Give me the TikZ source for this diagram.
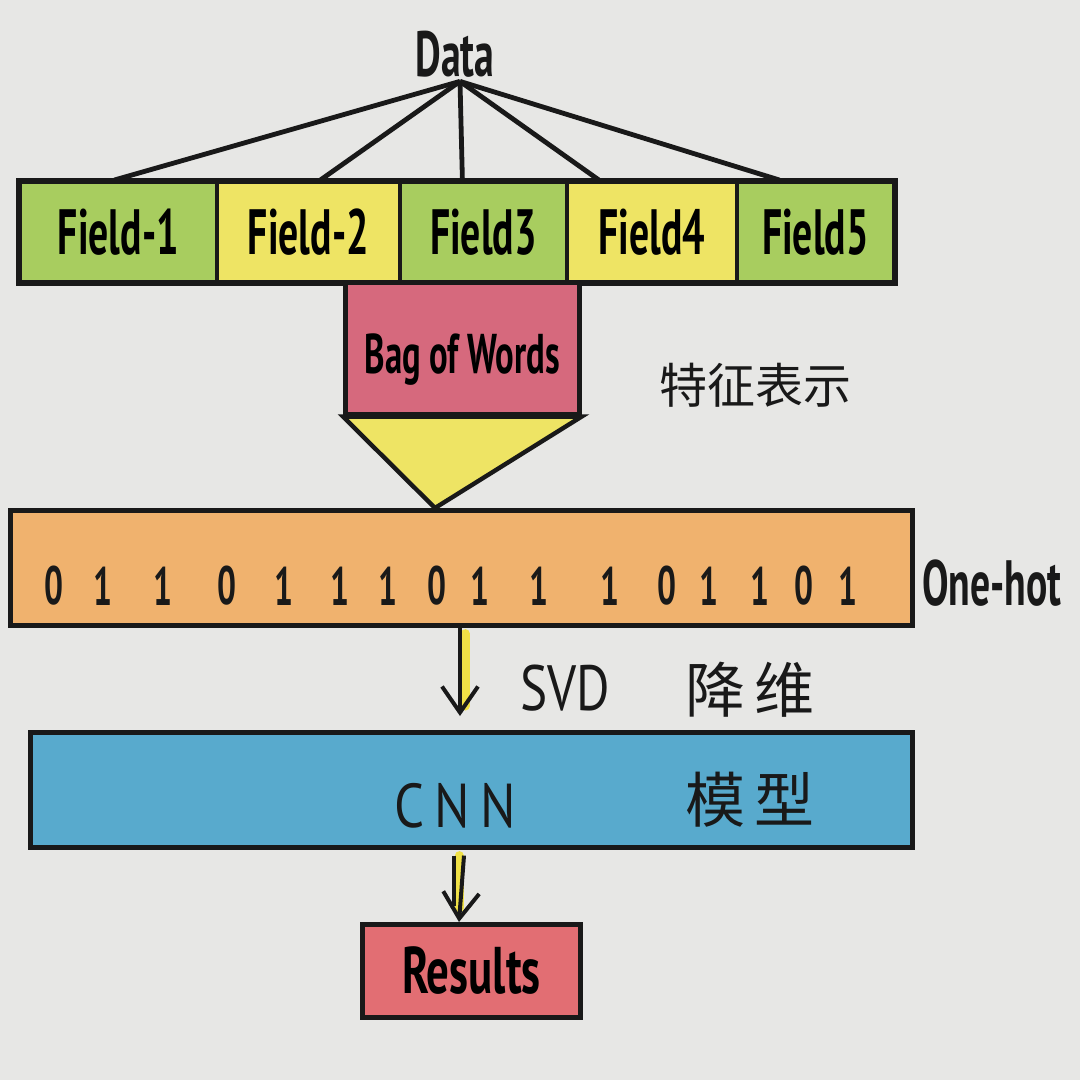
\documentclass[tikz,border=0pt]{standalone}
\usepackage{fontspec}
\setmainfont{PT Sans}
\newfontfamily\hand[FakeStretch=0.62]{PT Sans}
\newfontfamily\cjk{Noto Sans CJK SC}
\usetikzlibrary{calc,arrows.meta}
\definecolor{paper}{RGB}{231,231,229}
\definecolor{fgreen}{RGB}{168,205,95}
\definecolor{fyellow}{RGB}{238,228,100}
\definecolor{bowred}{RGB}{214,105,125}
\definecolor{hotorange}{RGB}{240,178,110}
\definecolor{cnnblue}{RGB}{88,170,205}
\definecolor{resred}{RGB}{226,110,115}
\definecolor{ink}{RGB}{25,25,25}
\definecolor{hilite}{RGB}{240,225,70}
\begin{document}
\begin{tikzpicture}[x=1pt,y=-1pt,
  box/.style={draw=ink,line width=4.6pt,inner sep=0pt,anchor=north west},
  field/.style={box,line width=3.8pt,minimum height=100pt,font=\hand\bfseries\fontsize{64}{64}\selectfont},
  handtxt/.style={inner sep=0pt,font=\hand\bfseries\fontsize{64}{64}\selectfont,text=ink},
  thintxt/.style={inner sep=0pt,font=\hand\fontsize{62}{62}\selectfont,text=ink},
  zhtxt/.style={inner sep=0pt,font=\cjk\fontsize{48}{48}\selectfont,text=ink},
  digit/.style={inner sep=0pt,font=\hand\bfseries\fontsize{54}{54}\selectfont,text=ink},
  conn/.style={draw=ink,line width=4.8pt},
  hl/.style={draw=hilite,line width=9pt,line cap=round},
  arr/.style={draw=ink,line width=4pt,-{Straight Barb[length=26pt,width=36pt,line width=4pt]}}
]
\useasboundingbox (0,0) rectangle (1080,1080);
\fill[paper] (0,0) rectangle (1080,1080);

% Data and fields
\node[handtxt] (data) at (455,54) {Data};
\node[field,fill=fgreen,minimum width=197pt] (f1) at (18,180) {Field-1};
\node[field,fill=fyellow,minimum width=183pt] (f2) at (215,180) {Field-2};
\node[field,fill=fgreen,minimum width=167pt] (f3) at (398,180) {Field3};
\node[field,fill=fyellow,minimum width=170pt] (f4) at (565,180) {Field4};
\node[field,fill=fgreen,minimum width=157pt] (f5) at (735,180) {Field5};
\draw[ink,line width=5pt] (f1.north west) rectangle (f5.south east);

\coordinate (dv) at ($(data.south)+(5,4)$);
\draw[conn] (dv) -- ($(f1.north)+(-4,0)$);
\draw[conn] (dv) -- ($(f2.north)+(12,0)$);
\draw[conn] (dv) -- ($(f3.north)+(-21,0)$);
\draw[conn] (dv) -- ($(f4.north)+(-53,0)$);
\draw[conn] (dv) -- ($(f5.north)+(-36,0)$);

% Bag of words
\node[box,fill=bowred,minimum width=234pt,minimum height=132pt,
      font=\hand\bfseries\fontsize{56}{56}\selectfont,text height=60pt,text depth=10pt] (bow) at (343,280) {Bag of Words};
\node[zhtxt] (feat) at (755,385) {特征表示};

% One-hot
\node[box,fill=hotorange,minimum width=902pt,minimum height=115pt] (onehot) at (8,508) {};
\coordinate (apex) at (435,508);
\draw[ink,line width=4.4pt,fill=fyellow,line join=miter] (bow.south west) -- (bow.south east) -- (apex) -- cycle;
\foreach \x/\d [count=\i] in {54/0,103/1,163/1,227/0,284/1,340/1,388/1,437/0,480/1,539/1,610/1,667/0,709/1,760/1,804/0,848/1}
  \node[digit] (d\i) at (\x,586) {\d};
\node[handtxt,anchor=west] (ohlabel) at (922,583) {One-hot};

% CNN
\node[box,fill=cnnblue,minimum width=882pt,minimum height=115pt] (cnn) at (28,730) {};
\node[thintxt,font=\fontsize{62}{62}\selectfont\addfontfeature{FakeStretch=0.85}] (cnnlabel) at (455,806) {C\,N\,N};
\node[zhtxt,font=\cjk\fontsize{60}{60}\selectfont] (model) at (750,800) {模\hspace{10pt}型};

% SVD arrow
\coordinate (a1x) at (460,0);
\draw[hl] ($(onehot.south -| a1x)+(5,6)$) -- ($(cnn.north -| a1x)+(5,-24)$);
\draw[arr] (onehot.south -| a1x) -- ($(cnn.north -| a1x)+(0,-14)$);
\node[thintxt,font=\fontsize{64}{64}\selectfont\addfontfeature{FakeStretch=0.8},anchor=west] (svd) at (520,688) {SVD};
\node[zhtxt,font=\cjk\fontsize{60}{60}\selectfont] (svdzh) at (750,690) {降\hspace{10pt}维};

% Results
\node[box,fill=resred,minimum width=218pt,minimum height=93pt,
      font=\hand\bfseries\fontsize{66}{66}\selectfont\addfontfeature{FakeStretch=0.68}] (res) at (360,922) {Results};
\coordinate (a2x) at (459,0);
\draw[hl] ($(cnn.south -| a2x)+(0,6)$) -- ($(res.north -| a2x)+(0,-14)$);
\draw[conn,line width=4pt] ($(cnn.south -| a2x)+(-5,6)$) -- ($(res.north -| a2x)+(-5,-16)$);
\draw[arr] ($(cnn.south -| a2x)+(5,6)$) -- (res.north -| a2x);
\end{tikzpicture}
\end{document}
